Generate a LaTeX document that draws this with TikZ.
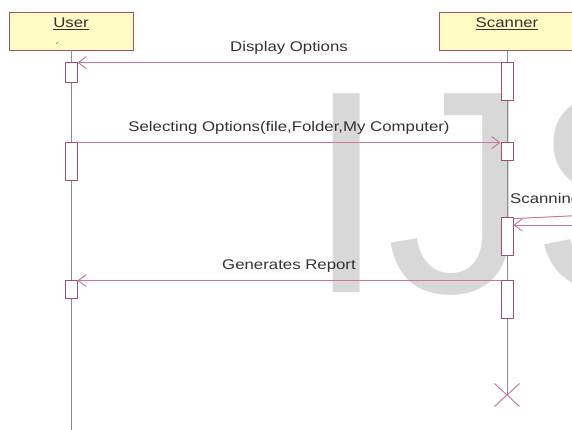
\documentclass[tikz,border=0pt]{standalone}
\usepackage{fontspec}
\setmainfont{Liberation Sans}
\usepackage{graphicx}
\usetikzlibrary{arrows.meta,positioning,shapes.misc}
\definecolor{boxfill}{RGB}{255,252,196}
\definecolor{boxline}{RGB}{160,80,110}
\definecolor{msgcol}{RGB}{200,120,160}
\definecolor{lifecol}{RGB}{140,140,140}
\definecolor{txtcol}{RGB}{50,50,50}
\definecolor{wmark}{RGB}{216,216,216}
\newcommand{\wide}[1]{\scalebox{1.2}[1]{#1}}

\begin{document}
\begin{tikzpicture}[x=1pt,y=-1pt,>={Straight Barb[length=8pt,width=12pt]}]
  \useasboundingbox (0,0) rectangle (572,429);
  \clip (0,0) rectangle (572,429);
  \tikzset{
    objbox/.style={draw=boxline,fill=boxfill,line width=0.8pt,minimum height=38pt,inner sep=0pt},
    objname/.style={text=txtcol,font=\fontsize{14}{14}\selectfont,inner sep=0pt},
    lifeline/.style={draw=lifecol,line width=0.8pt},
    act/.style={draw=boxline,fill=white,line width=0.8pt,minimum width=12pt,inner sep=0pt},
    msg/.style={draw=msgcol,line width=1pt,->},
    msglabel/.style={text=txtcol,font=\fontsize{14}{14}\selectfont,inner sep=0pt}
  }
  % Watermark
  \node[anchor=base west,text=wmark,inner sep=0pt,font=\fontsize{289}{289}\selectfont]
    (wm) at (306,292) {IJS};

  % Objects
  \node[objbox,minimum width=124pt] (user) at (71,31) {};
  \node[objname] (userlbl) at (71,24) {\wide{\underline{User}}};
  \draw[boxline,line width=0.6pt] (56,44) -- (58,42);
  \node[objbox,minimum width=136pt] (scanner) at (507,31) {};
  \node[objname] (scanlbl) at (507,24) {\wide{\underline{Scanner}}};

  % Lifelines
  \coordinate (userend) at (71,432);
  \coordinate (scanend) at (507,395);
  \draw[lifeline] (user.south) -- (userend);
  \draw[lifeline] (scanner.south) -- (scanend);
  \node[cross out,draw=msgcol,line width=1pt,minimum width=24pt,minimum height=22pt,inner sep=0pt]
    (scanx) at (scanend) {};

  % Activation boxes
  \foreach \n/\t/\b in {1/62/82, 2/142/180, 3/280/298} {
    \node[act,minimum height={\b-\t}] (ua\n) at (71,{(\t+\b)/2}) {};
  }
  \foreach \n/\t/\b in {1/62/100, 2/142/160, 3/217/255, 4/280/318} {
    \node[act,minimum height={\b-\t}] (sa\n) at (507,{(\t+\b)/2}) {};
  }

  % Messages
  \draw[msg] ([yshift=-1pt]sa1.north west) -- node[msglabel,above=8pt] {\wide{Display Options}}
    ([yshift=-1pt]ua1.north east);
  \draw[msg] ([yshift=-1pt]ua2.north east) -- node[msglabel,above=8pt]
    {\wide{Selecting Options(file,Folder,My Computer)}} ([yshift=-1pt]sa2.north west);
  \coordinate (scanout) at (590,215);
  \coordinate (scanin) at (590,225);
  \draw[draw=msgcol,line width=1pt] ([yshift=-2pt]sa3.north east) -- (scanout);
  \draw[msg] (scanin) -- (scanin -| sa3.east);
  \node[msglabel,anchor=west] (scanlabel) at (510,200) {\wide{Scanning}};
  \draw[msg] ([yshift=-1pt]sa4.north west) -- node[msglabel,above=8pt] {\wide{Generates Report}}
    ([yshift=-1pt]ua3.north east);
\end{tikzpicture}
\end{document}
